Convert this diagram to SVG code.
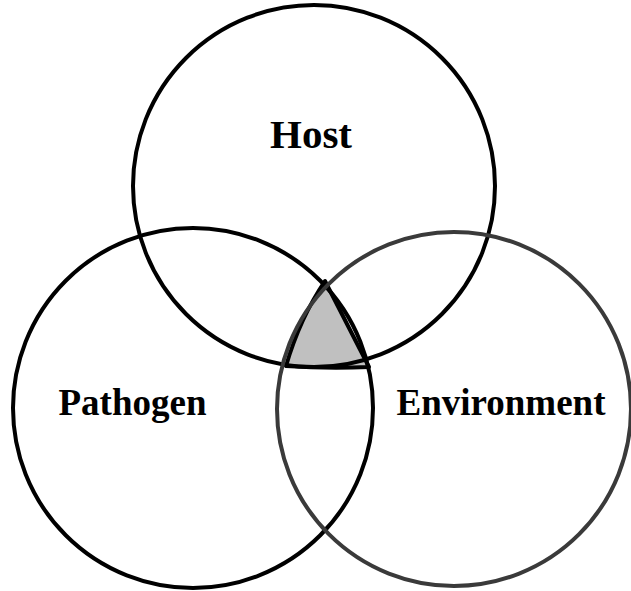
<svg xmlns="http://www.w3.org/2000/svg" width="631" height="591" viewBox="0 0 631 591">
  <style>
    .ring { fill: none; stroke-width: 4; }
    .label { font-family: "Liberation Serif", "Times New Roman", serif; font-weight: bold; fill: #000; }
  </style>
  <rect width="631" height="591" fill="#fff"/>
  <g id="overlap">
    <path d="M325,281 Q300,318 286,366 Q328,369 369,367 Z" fill="#c0c0c0" stroke="#000" stroke-width="4" stroke-linejoin="round"/>
  </g>
  <g id="host">
    <circle class="ring" cx="314" cy="186" r="181" stroke="#000"/>
    <text class="label" x="311" y="148" font-size="41" text-anchor="middle">Host</text>
  </g>
  <g id="pathogen">
    <circle class="ring" cx="193" cy="408" r="180" stroke="#000"/>
    <text class="label" x="132.5" y="415" font-size="37" text-anchor="middle">Pathogen</text>
  </g>
  <g id="environment">
    <circle class="ring" cx="454" cy="409" r="177" stroke="#3a3a3a"/>
    <text class="label" x="501" y="415" font-size="37" text-anchor="middle">Environment</text>
  </g>
</svg>
